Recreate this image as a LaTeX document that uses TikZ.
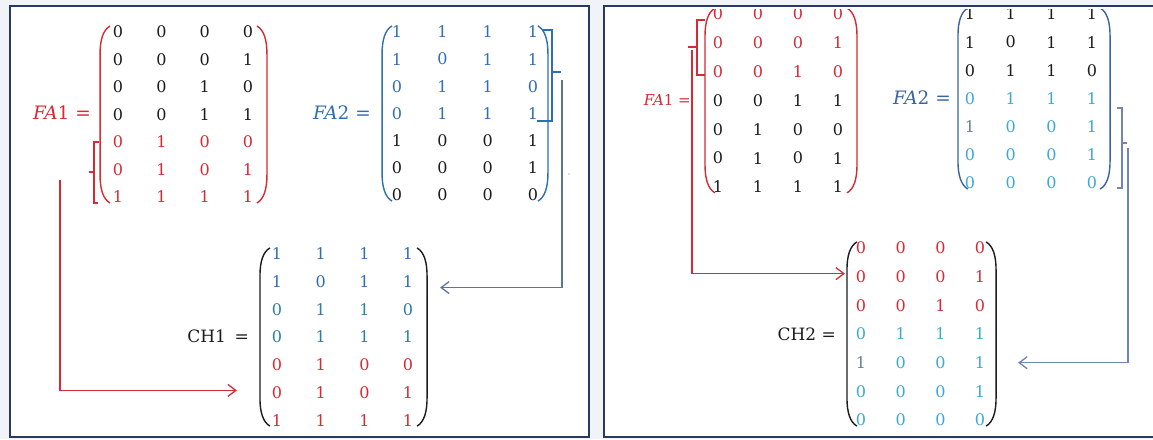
\documentclass[tikz,border=0pt]{standalone}
\usepackage{fontspec}
\newfontfamily\numfont{DejaVu Serif}
\usetikzlibrary{matrix,arrows.meta}

\definecolor{frameblue}{RGB}{38,58,98}
\definecolor{mred}{RGB}{214,42,52}
\definecolor{mblue}{RGB}{48,110,178}
\definecolor{mteal}{RGB}{45,125,165}
\definecolor{mcyan}{RGB}{62,168,214}
\definecolor{mblack}{RGB}{28,28,28}
\definecolor{mgray}{RGB}{100,128,150}
\definecolor{slate}{RGB}{88,116,166}
\definecolor{slatelight}{RGB}{112,132,182}
\definecolor{steel}{RGB}{60,100,160}
\definecolor{pagebg}{RGB}{240,243,248}

\tikzset{
  mat/.style={matrix of nodes, inner sep=0pt, column sep=0pt, row sep=0pt,
    nodes={inner sep=0pt, anchor=center, text=mblack, font=\numfont\fontsize{16}{17}\selectfont}},
  redrow/.style={nodes={text=mred}},
  bluerow/.style={nodes={text=mblue}},
  tealrow/.style={nodes={text=mteal}},
  cyanrow/.style={nodes={text=mcyan}},
  parenline/.style={line width=1.4pt},
  bracketline/.style={line width=1.3pt},
  frameline/.style={draw=frameblue, line width=2.8pt},
  link/.style={line width=1.3pt, -{Straight Barb[length=8pt,width=12pt]}},
  lbl/.style={inner sep=0pt, anchor=east},
  falbl/.style={lbl, font=\numfont\fontsize{18.5}{20}\selectfont},
  chlbl/.style={lbl, text=mblack, font=\numfont\fontsize{17}{19}\selectfont},
}

% round brackets around a 7x4 matrix: name, left gap, right gap, colour
\newcommand\MatParens[4]{%
  \draw[parenline,#4] ([shift={(-#2+10,-6)}]#1-1-1.center)
     .. controls +(-7,4) and +(0,-14) .. ([shift={(-#2,22)}]#1-1-1.center)
     -- ([shift={(-#2,-22)}]#1-7-1.center)
     .. controls +(0,14) and +(-7,-4) .. ([shift={(-#2+10,6)}]#1-7-1.center);
  \draw[parenline,#4] ([shift={(#3-10,-6)}]#1-1-4.center)
     .. controls +(7,4) and +(0,-14) .. ([shift={(#3,22)}]#1-1-4.center)
     -- ([shift={(#3,-22)}]#1-7-4.center)
     .. controls +(0,14) and +(7,-4) .. ([shift={(#3-10,6)}]#1-7-4.center);
}

\begin{document}
\begin{tikzpicture}[x=1pt,y=-1pt]
\useasboundingbox (0,0) rectangle (1153,439);
\fill[pagebg] (0,0) rectangle (1153,439);
\fill[white] (10,6) rectangle (589,437);
\fill[white] (604,6) rectangle (1170,437);

% ---------------- left panel ----------------
\matrix (fa1L) [mat, nodes={minimum width=43.3pt, minimum height=27.5pt},
  row 5/.style={redrow}, row 6/.style={redrow}, row 7/.style={redrow}] at (183,114.5) {
0 & 0 & 0 & 0\\ 0 & 0 & 0 & 1\\ 0 & 0 & 1 & 0\\ 0 & 0 & 1 & 1\\
0 & 1 & 0 & 0\\ 0 & 1 & 0 & 1\\ 1 & 1 & 1 & 1\\};
\MatParens{fa1L}{18}{19}{mred}
\node[falbl, text=mred] (fa1Llbl) at (91,113) {\textit{FA}1 =};

\matrix (fa2L) [mat, nodes={minimum width=45.3pt, minimum height=27.2pt},
  row 1/.style={bluerow}, row 2/.style={bluerow}, row 3/.style={bluerow}, row 4/.style={bluerow}] at (465,113.5) {
1 & 1 & 1 & 1\\ 1 & 0 & 1 & 1\\ 0 & 1 & 1 & 0\\ 0 & 1 & 1 & 1\\
1 & 0 & 0 & 1\\ 0 & 0 & 0 & 1\\ 0 & 0 & 0 & 0\\};
\MatParens{fa2L}{15}{15}{mblue}
\node[falbl, text=mblue] (fa2Llbl) at (371,113) {\textit{FA}2 =};

\matrix (ch1) [mat, nodes={minimum width=43.7pt, minimum height=27.7pt},
  row 1/.style={bluerow}, row 2/.style={bluerow}, row 3/.style={tealrow}, row 4/.style={tealrow},
  row 5/.style={redrow}, row 6/.style={redrow}, row 7/.style={redrow}] at (342.5,337) {
1 & 1 & 1 & 1\\ 1 & 0 & 1 & 1\\ 0 & 1 & 1 & 0\\ 0 & 1 & 1 & 1\\
0 & 1 & 0 & 0\\ 0 & 1 & 0 & 1\\ 1 & 1 & 1 & 1\\};
\MatParens{ch1}{17}{19}{mblack}
\node[chlbl] (ch1lbl) at (249,336) {CH1\hspace{0.5em}=};

% red bracket on the last three rows of FA1 and its link
\draw[bracketline, mred] (99,142) -- (94,142) -- (94,203) -- (98,203);
\draw[bracketline, mred] (94,172) -- (89,172);
\coordinate (r1s) at (60,180);
\draw[link, mred] (r1s) |- ([shift={(-40,-2)}]ch1-6-1.center);

% blue bracket on the first four rows of FA2 and its link
\draw[bracketline, mblue] (542,30) -- (552,30) -- (552,121) -- (537,121);
\draw[bracketline, mblue] (552,72) -- (561,72);
\coordinate (b1s) at (562,80);
\draw[link, slate] (b1s) |- ([shift={(32,6)}]ch1-2-4.center);
\fill[gray!50] (569,174) circle (0.9);

% ---------------- right panel ----------------
\begin{scope}
\clip (604,9.5) rectangle (1153,437);
\matrix (fa1R) [mat, nodes={minimum width=40pt, minimum height=28.8pt},
  row 1/.style={redrow}, row 2/.style={redrow}, row 3/.style={redrow}] at (778,100.5) {
0 & 0 & 0 & 0\\ 0 & 0 & 0 & 1\\ 0 & 0 & 1 & 0\\ 0 & 0 & 1 & 1\\
0 & 1 & 0 & 0\\ 0 & 1 & 0 & 1\\ 1 & 1 & 1 & 1\\};
\MatParens{fa1R}{13}{19}{mred}

\matrix (fa2R) [mat, nodes={minimum width=40.7pt, minimum height=28.2pt},
  row 4/.style={cyanrow}, row 5/.style={cyanrow}, row 6/.style={cyanrow}, row 7/.style={cyanrow},
  row 5 column 1/.style={nodes={text=mgray}}] at (1031,98.5) {
1 & 1 & 1 & 1\\ 1 & 0 & 1 & 1\\ 0 & 1 & 1 & 0\\ 0 & 1 & 1 & 1\\
1 & 0 & 0 & 1\\ 0 & 0 & 0 & 1\\ 0 & 0 & 0 & 0\\};
\MatParens{fa2R}{12}{18}{steel}
\end{scope}
\node[lbl, text=mred, font=\numfont\fontsize{15}{17}\selectfont] (fa1Rlbl) at (691,100) {\textit{FA}1 =};
\node[falbl, text=steel] (fa2Rlbl) at (951,98) {\textit{FA}2 =};

\matrix (ch2) [mat, nodes={minimum width=39.7pt, minimum height=28.7pt},
  row 1/.style={redrow}, row 2/.style={redrow}, row 3/.style={redrow},
  row 4/.style={cyanrow}, row 5/.style={cyanrow}, row 6/.style={cyanrow}, row 7/.style={cyanrow},
  row 5 column 1/.style={nodes={text=mgray}}] at (920.5,334) {
0 & 0 & 0 & 0\\ 0 & 0 & 0 & 1\\ 0 & 0 & 1 & 0\\ 0 & 1 & 1 & 1\\
1 & 0 & 0 & 1\\ 0 & 0 & 0 & 1\\ 0 & 0 & 0 & 0\\};
\MatParens{ch2}{14}{16}{mblack}
\node[chlbl] (ch2lbl) at (836,334) {CH2 =};

% red bracket on the first three rows of FA1 and its link
\draw[bracketline, mred] (705,20) -- (697,20) -- (697,75) -- (705,75);
\draw[bracketline, mred] (697,47) -- (688,47);
\coordinate (r2s) at (692,50);
\draw[link, mred] (r2s) |- ([shift={(-16,-3)}]ch2-2-1.center);

% bracket on the last four rows of FA2 and its link
\draw[bracketline, slatelight] (1117,108) -- (1122,108) -- (1122,188) -- (1117,188);
\draw[bracketline, slatelight] (1122,143) -- (1127,143);
\coordinate (b2s) at (1128,148);
\draw[link, slatelight] (b2s) |- ([shift={(38,0)}]ch2-5-4.center);

% panel frames
\draw[frameline] (10,6) rectangle (589,437);
\draw[frameline] (604,6) rectangle (1170,437);
\end{tikzpicture}
\end{document}
